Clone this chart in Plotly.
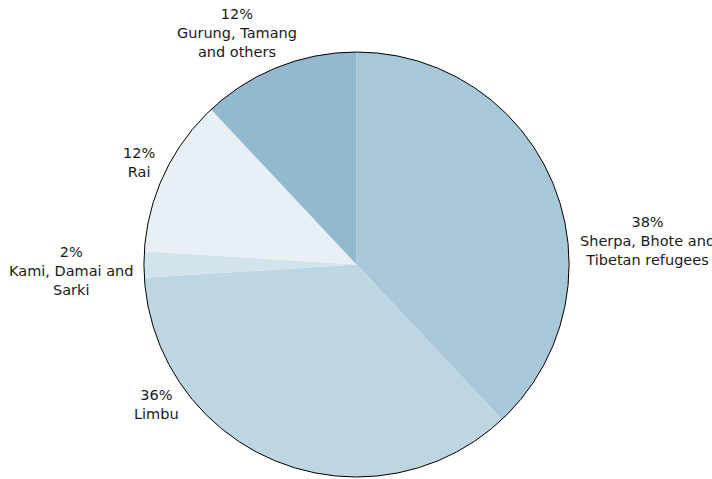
import plotly.graph_objects as go

groups = ["Sherpa, Bhote and<br>Tibetan refugees", "Limbu", "Kami, Damai and<br>Sarki", "Rai", "Gurung, Tamang<br>and others"]
shares = [38, 36, 2, 12, 12]
colors = ["#a8c8d9", "#bed5e2", "#d3e3ec", "#e8eff5", "#93b9cf"]

W, H = 712, 479
# label block centres (pixels) - layout only
label_xy = [(647, 241), (156, 404), (71, 271), (139, 163), (237, 33)]

fig = go.Figure()
fig.add_trace(go.Pie(
    labels=groups, values=shares, sort=False, direction="clockwise", rotation=0,
    marker=dict(colors=colors, line=dict(width=0)),
    textinfo="none", hoverinfo="skip", showlegend=False,
    domain=dict(x=[144 / W, 569 / W], y=[1 - 477 / H, 1 - 52 / H]),
))
fig.add_trace(go.Pie(
    labels=["outline"], values=[1], sort=False,
    marker=dict(colors=["rgba(0,0,0,0)"], line=dict(width=1, color="#000000")),
    textinfo="none", hoverinfo="skip", showlegend=False,
    domain=dict(x=[144 / W, 569 / W], y=[1 - 477 / H, 1 - 52 / H]),
))
for g, s, (px, py) in zip(groups, shares, label_xy):
    fig.add_annotation(
        x=px / W, y=1 - py / H, xref="paper", yref="paper",
        text=f"{s}%<br>{g}", showarrow=False, xanchor="center", yanchor="middle",
        align="center", font=dict(family="DejaVu Sans", size=14.5, color="#1a1a1a"),
    )
fig.update_layout(
    width=W, height=H, paper_bgcolor="white", plot_bgcolor="white",
    margin=dict(l=0, r=0, t=0, b=0),
)
fig.write_html("out.html")
